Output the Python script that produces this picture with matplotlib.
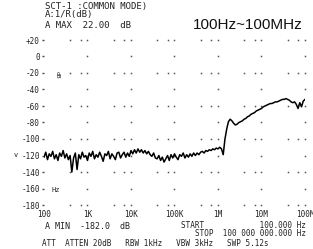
import numpy as np
import matplotlib
matplotlib.use('Agg')
import matplotlib.pyplot as plt

# sweep 100 Hz .. 100 MHz, levels (dB)
levels = [
    -122, -116, -125, -118, -121, -115, -124, -119, -126, -117, -121, -114, -123, -118, -125,
    -120, -140, -123, -117, -137, -119, -124, -116, -122, -120,
    -126, -117, -121, -115, -124, -119, -122, -116, -121, -127, -118, -120, -115, -124, -118,
    -121, -125, -117, -116, -123, -119, -116, -122, -117, -121,
    -114, -118, -113, -117, -112, -116, -113, -117, -114, -118,
    -115, -119, -121, -117, -123, -124, -120, -126, -122, -128,
    -124, -120, -126, -119, -123, -118, -122, -125, -119, -121, -117, -123, -119, -122, -118,
    -121, -117, -120,
    -117, -119, -116, -115, -117, -114, -115, -113, -114, -112, -113, -111, -112, -110,
    -112, -119, -100, -88, -79, -76, -78, -81, -83, -82, -80, -79, -78, -76, -75,
    -73, -72, -70, -69, -68, -66, -65, -64, -63, -61, -60, -59, -58, -57, -57,
    -56, -55, -55, -54, -53, -52, -52, -51, -52, -53, -55, -56, -55, -58, -63,
    -56, -61, -54, -52,
]
freqs = np.logspace(2, 8, len(levels))

ytick_vals = [20, 0, -20, -40, -60, -80, -100, -120, -140, -160, -180]
ytick_labels = ['+20', '0', '-20', '-40', '-60', '-80', '-100', '-120', '-140', '-160', '-180']
xtick_vals = [1e2, 1e3, 1e4, 1e5, 1e6, 1e7, 1e8]
xtick_labels = ['100', '1K', '10K', '100K', '1M', '10M', '100M']

mono = 'DejaVu Sans Mono'
ink = '#222222'

W, H = 313, 249
fig = plt.figure(figsize=(W / 100, H / 100), dpi=100)
ax = fig.add_axes([44 / W, 1 - 205 / H, 261 / W, 165 / H])
ax.set_xscale('log')
ax.set_xlim(1e2, 1e8)
ax.set_ylim(-180, 20)
for s in ax.spines.values():
    s.set_visible(False)

# dotted graticule (scan keeps only some of the dots)
for k, yv in enumerate(ytick_vals):
    mult = [1, 4, 7] if k % 2 == 0 else [1]
    gx = [m * 10.0**d for d in range(2, 8) for m in mult if m * 10.0**d > 1e2] + [1e8]
    ax.plot(gx, [yv] * len(gx), ls='none', marker='s', ms=1.1, mfc='#555555', mec='none',
            clip_on=False)

ax.plot(freqs, levels, color='black', lw=1.1)

ax.set_yticks(ytick_vals)
ax.set_yticklabels(ytick_labels, family=mono, fontsize=5.5, color=ink)
ax.set_xticks(xtick_vals)
ax.set_xticklabels(xtick_labels, family=mono, fontsize=5.5, color=ink)
ax.xaxis.set_minor_locator(matplotlib.ticker.NullLocator())
ax.tick_params(axis='y', length=1.5, width=1, pad=1.5, color='#444444')
ax.tick_params(axis='x', length=0, pad=3.5)

# analyzer annotations
def note(x, y, s, **kw):
    kw.setdefault('family', mono)
    kw.setdefault('fontsize', 6.5)
    kw.setdefault('color', ink)
    fig.text(x / W, 1 - y / H, s, va='center', **kw)

note(45, 6, 'SCT-1 :COMMON MODE)')
note(45, 15, 'A:1/R(dB)')
note(45, 25, 'A MAX  22.00  dB')
note(193, 25, '100Hz~100MHz', family='Liberation Sans', fontsize=11, color='#111111')
note(55, 75, 'dB', fontsize=4.5, rotation=-90)
note(14, 155, 'v', fontsize=5)
note(52, 190, 'Hz', fontsize=5)
note(45, 226, 'A MIN  -182.0  dB', fontsize=6)
note(306, 225, 'START            100.000 Hz', ha='right', fontsize=5.5)
note(306, 233, 'STOP  100 000 000.000 Hz', ha='right', fontsize=5.5)
note(42, 243, 'ATT  ATTEN 20dB   RBW 1kHz   VBW 3kHz   SWP 5.12s', fontsize=5.5)

fig.savefig('out.png', dpi=100)
